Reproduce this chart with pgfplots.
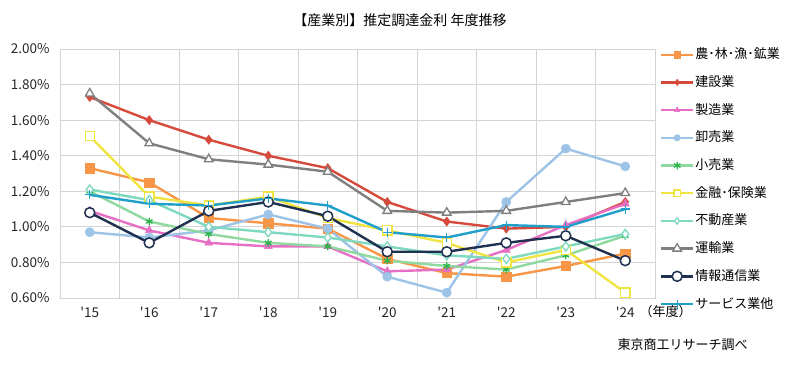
\documentclass[border=0pt]{standalone}
\usepackage{fontspec}
\setmainfont{Noto Sans CJK JP}
\usepackage{pgfplots}
\pgfplotsset{compat=1.18}
\definecolor{cAgr}{HTML}{F79646}
\definecolor{cCon}{HTML}{D64A3B}
\definecolor{cMan}{HTML}{E66FC3}
\definecolor{cWho}{HTML}{9DC3E6}
\definecolor{cRetL}{HTML}{8FD9A0}
\definecolor{cRetM}{HTML}{2DB34A}
\definecolor{cFin}{HTML}{F0E440}
\definecolor{cRea}{HTML}{7ED9C0}
\definecolor{cTra}{HTML}{7F7F7F}
\definecolor{cInf}{HTML}{1F3050}
\definecolor{cSer}{HTML}{1F9FC9}
\begin{document}
\begin{tikzpicture}
\useasboundingbox (0pt,0pt) rectangle (800pt,367pt);
\node[font=\fontsize{14}{16}\selectfont] at (400pt,347pt) {【産業別】推定調達金利 年度推移};
\node[font=\fontsize{13}{15}\selectfont, anchor=west] at (614pt,22pt) {東京商工リサーチ調べ};
\node[font=\fontsize{13}{15}\selectfont, anchor=west] at (636pt,55pt) {（年度）};
\begin{axis}[
  at={(60pt,69pt)}, anchor=south west,
  scale only axis, width=595pt, height=249pt,
  xmin=-0.5, xmax=9.5, ymin=0.6, ymax=2.0,
  xtick={0,...,9},
  xticklabels={\textquotesingle15,\textquotesingle16,\textquotesingle17,\textquotesingle18,\textquotesingle19,\textquotesingle20,\textquotesingle21,\textquotesingle22,\textquotesingle23,\textquotesingle24},
  minor xtick={-0.5,0.5,...,9.5},
  ytick={0.6,0.8,...,2.01},
  yticklabels={0.60\%,0.80\%,1.00\%,1.20\%,1.40\%,1.60\%,1.80\%,2.00\%},
  xminorgrids=true, ymajorgrids=true,
  grid style={draw=black!17, line width=0.8pt},
  minor grid style={draw=black!17, line width=0.8pt},
  axis line style={draw=black!17, line width=0.8pt},
  major tick length=0pt, minor tick length=0pt,
  tick label style={font=\fontsize{13.5}{15}\selectfont, text=black!85},
  yticklabel style={xshift=-7pt},
  xticklabel style={yshift=-6pt},
  /pgf/number format/assume math mode=true,
  legend cell align=left,
  legend style={at={(1.008,1.01)}, anchor=north west, draw=none, fill=none,
    font=\fontsize{13}{15}\selectfont, row sep=11.7pt, inner sep=0pt,
    nodes={text height=11pt, text depth=3pt, inner sep=1pt}},
  legend image code/.code={\draw[mark repeat=2,mark phase=2,#1,mark size=3.2pt] plot coordinates {(0pt,0pt) (16pt,0pt) (32pt,0pt)};},
  every axis plot/.append style={line width=2.4pt, mark size=4.6pt},
  clip=false,
]
\addplot[color=cAgr, mark=square*, mark options={fill=cAgr, line width=0.5pt}] coordinates {(0,1.33) (1,1.25) (2,1.05) (3,1.02) (4,0.99) (5,0.82) (6,0.74) (7,0.72) (8,0.78) (9,0.85)};
\addlegendentry{農･林･漁･鉱業}
\addplot[color=cCon, mark=diamond*, mark options={fill=cCon, line width=0.5pt}] coordinates {(0,1.73) (1,1.60) (2,1.49) (3,1.40) (4,1.33) (5,1.14) (6,1.03) (7,0.99) (8,1.00) (9,1.14)};
\addlegendentry{建設業}
\addplot[color=cMan, mark=triangle*, mark options={fill=cMan, line width=0.5pt}] coordinates {(0,1.09) (1,0.98) (2,0.91) (3,0.89) (4,0.89) (5,0.75) (6,0.76) (7,0.87) (8,1.01) (9,1.13)};
\addlegendentry{製造業}
\addplot[color=cWho, mark=*, mark options={fill=cWho, line width=0.5pt}] coordinates {(0,0.97) (1,0.94) (2,0.98) (3,1.07) (4,0.99) (5,0.72) (6,0.63) (7,1.14) (8,1.44) (9,1.34)};
\addlegendentry{卸売業}
\addplot[color=cRetL, mark=asterisk, mark options={draw=cRetM, line width=1.3pt, mark size=3.8pt}] coordinates {(0,1.20) (1,1.03) (2,0.96) (3,0.91) (4,0.89) (5,0.81) (6,0.78) (7,0.76) (8,0.84) (9,0.95)};
\addlegendentry{小売業}
\addplot[color=cFin, mark=square*, mark options={fill=white, line width=1.3pt}] coordinates {(0,1.51) (1,1.17) (2,1.12) (3,1.17) (4,1.05) (5,0.98) (6,0.91) (7,0.80) (8,0.87) (9,0.63)};
\addlegendentry{金融･保険業}
\addplot[color=cRea, mark=diamond*, mark options={fill=white, line width=1.3pt}] coordinates {(0,1.21) (1,1.15) (2,1.00) (3,0.97) (4,0.94) (5,0.89) (6,0.84) (7,0.82) (8,0.89) (9,0.96)};
\addlegendentry{不動産業}
\addplot[color=cTra, mark=triangle*, mark options={fill=white, line width=1.3pt, mark size=5pt}] coordinates {(0,1.75) (1,1.47) (2,1.38) (3,1.35) (4,1.31) (5,1.09) (6,1.08) (7,1.09) (8,1.14) (9,1.19)};
\addlegendentry{運輸業}
\addplot[color=cInf, mark=*, mark options={fill=white, line width=1.5pt, mark size=5pt}] coordinates {(0,1.08) (1,0.91) (2,1.09) (3,1.14) (4,1.06) (5,0.86) (6,0.86) (7,0.91) (8,0.95) (9,0.81)};
\addlegendentry{情報通信業}
\addplot[color=cSer, mark=+, mark options={line width=1.3pt, mark size=4.5pt}] coordinates {(0,1.18) (1,1.13) (2,1.12) (3,1.16) (4,1.12) (5,0.97) (6,0.94) (7,1.01) (8,1.00) (9,1.10)};
\addlegendentry{サービス業他}
\end{axis}
\end{tikzpicture}
\end{document}
